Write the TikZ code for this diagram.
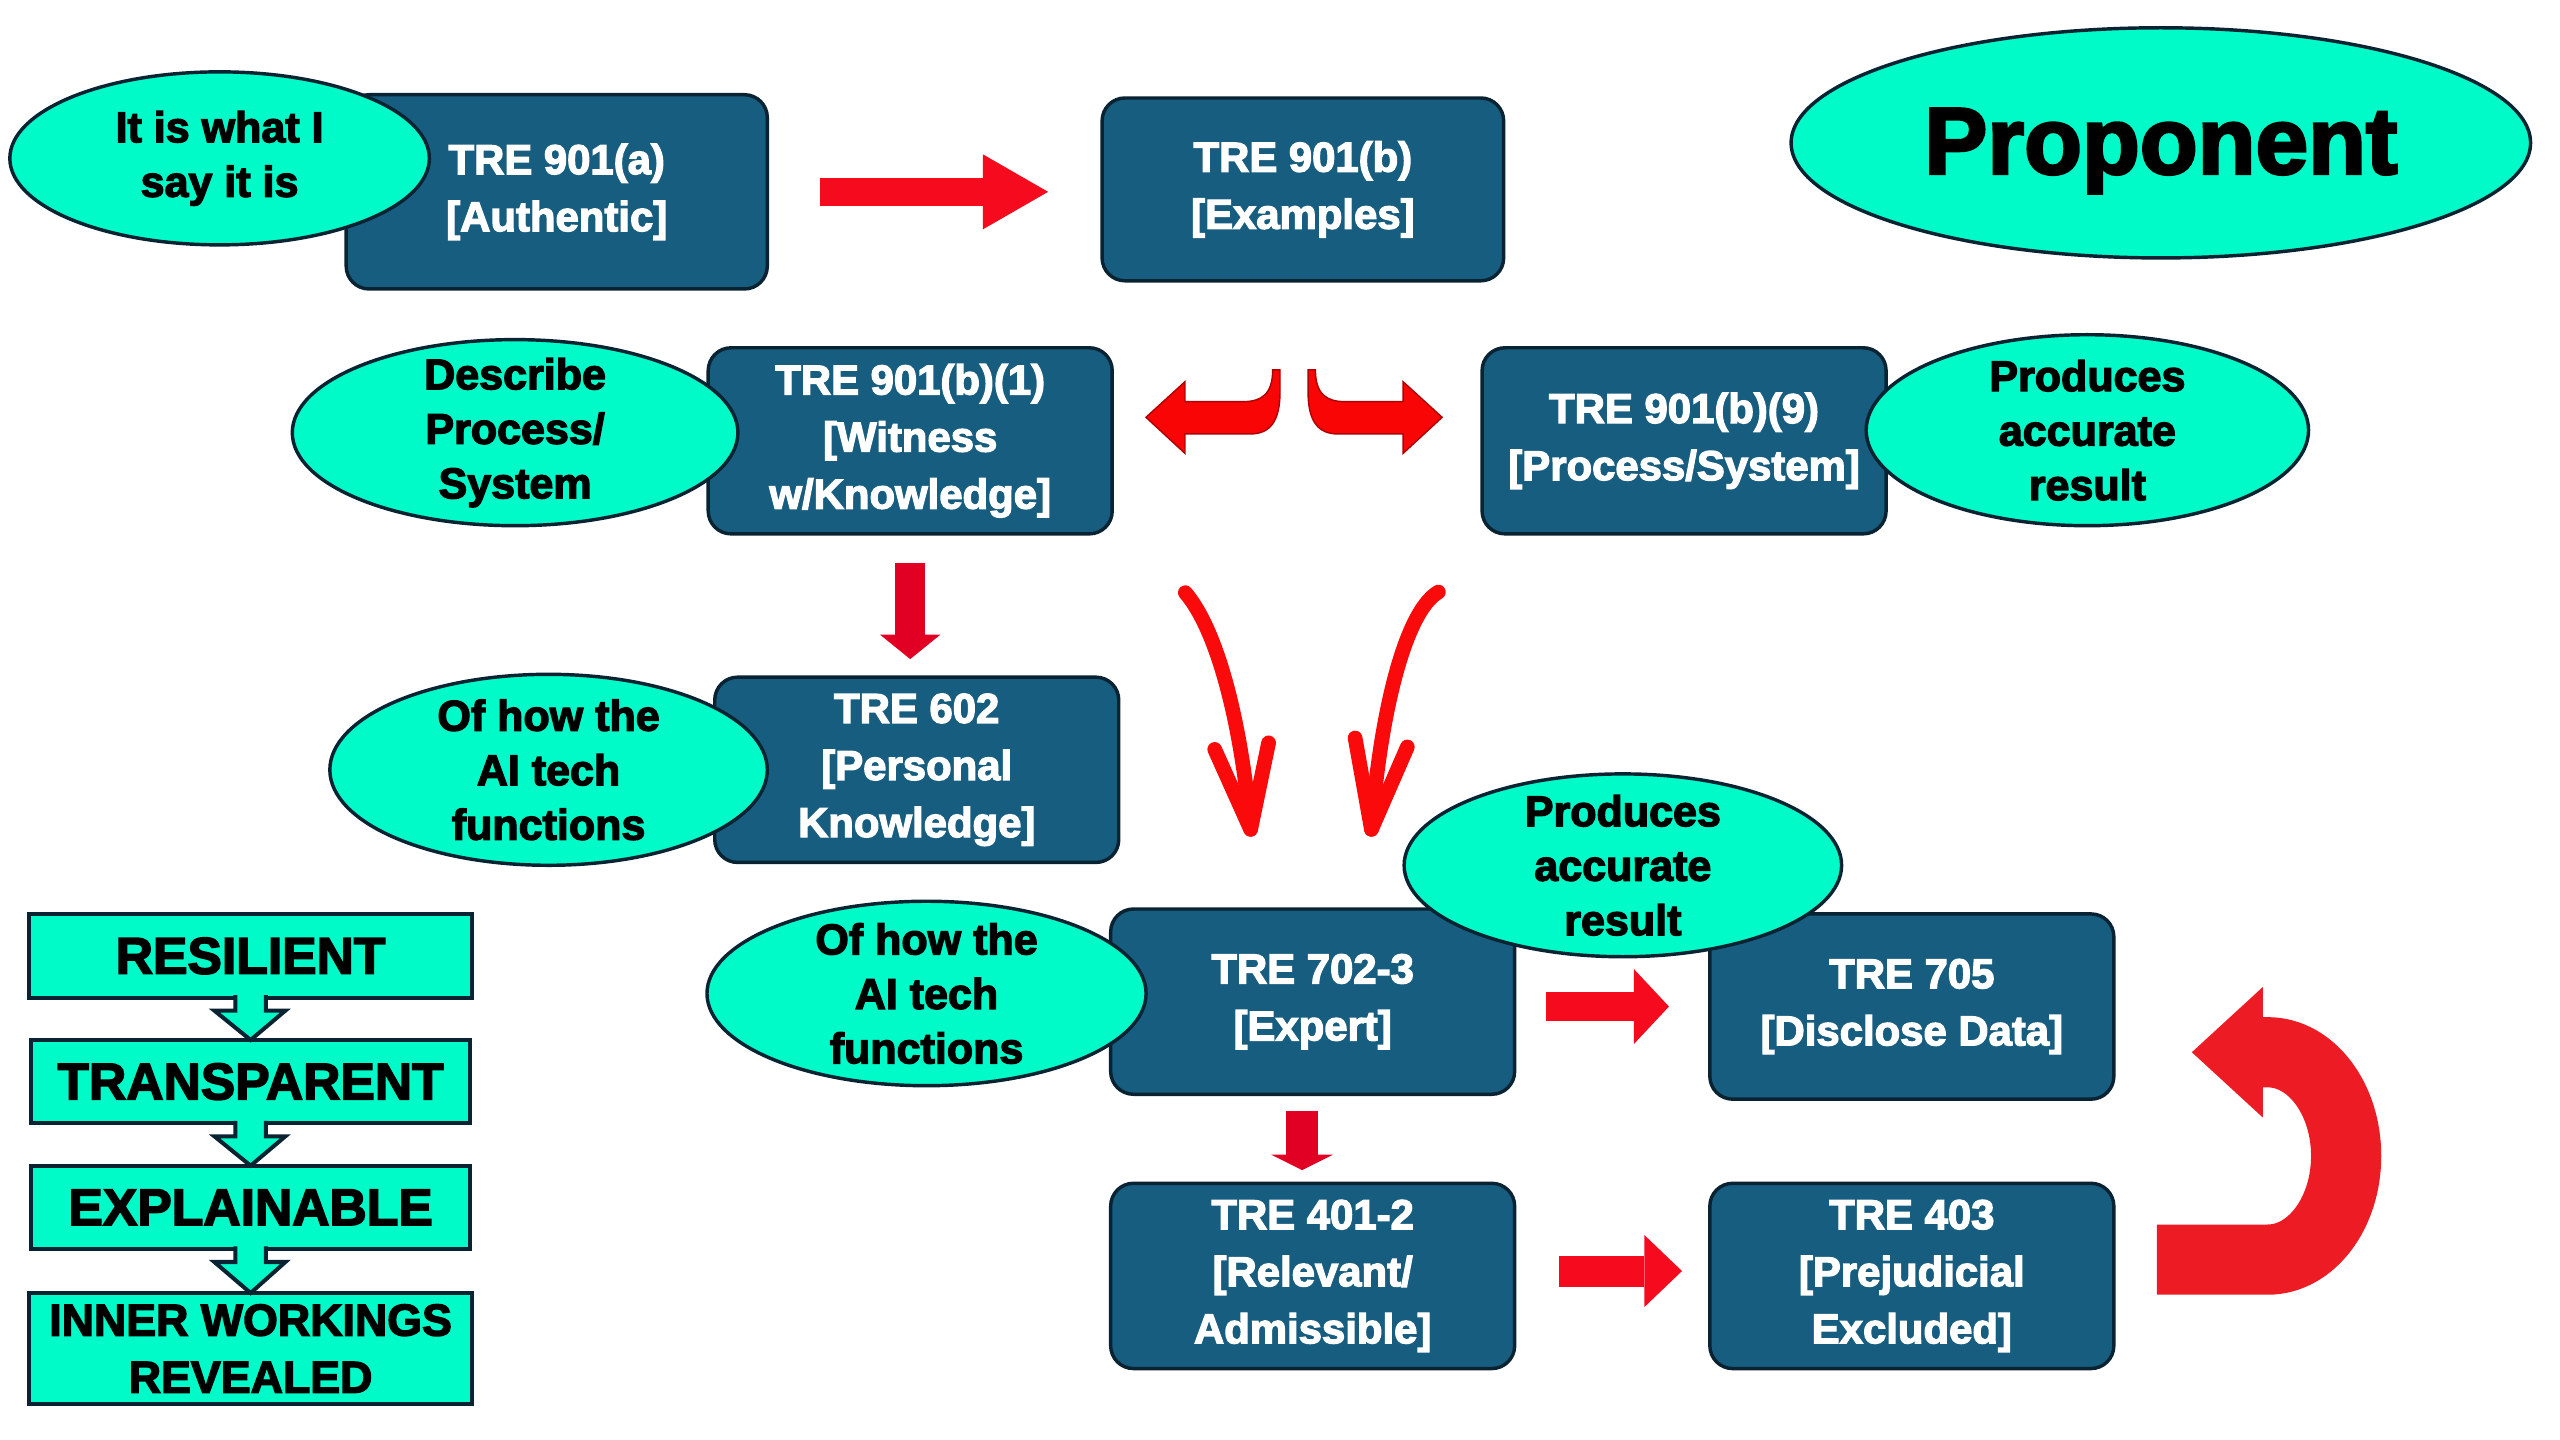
\documentclass[tikz,border=0pt]{standalone}
\usepackage{fontspec}
\setmainfont{Liberation Sans}[BoldFeatures={FakeBold=3}]
\usepackage{xcolor}
\usetikzlibrary{shapes.geometric, arrows.meta, calc, positioning}

\definecolor{boxblue}{RGB}{23,93,128}
\definecolor{boxline}{RGB}{10,35,50}
\definecolor{aqua}{RGB}{0,250,200}
\definecolor{blockred}{RGB}{245,10,30}
\definecolor{downred}{RGB}{225,0,35}
\definecolor{turnred}{RGB}{237,28,36}
\definecolor{penred}{RGB}{250,10,10}
\definecolor{splitred}{RGB}{250,5,5}

\newcommand\boxfont{\bfseries\fontsize{14.6}{19.9}\selectfont}
\newcommand\bubblefont{\bfseries\fontsize{15}{19}\selectfont}
\newcommand\tierfont{\bfseries\fontsize{18}{20}\selectfont}

% block arrow between two stacked tiers
\newcommand\tierarrow[2]{%
  \path[fill=aqua, draw=boxline, line width=1.4pt, line join=miter]
    ($(#1.south)+(9.4,-1.5)$) -- ($(#1.south)+(9.4,8)$) -- ($(#1.south)+(21.3,8)$)
    -- (#2.north) -- ($(#1.south)+(-22.2,8)$) -- ($(#1.south)+(-9.4,8)$)
    -- ($(#1.south)+(-9.4,-1.5)$);}

\begin{document}
\begin{tikzpicture}[x=0.02cm, y=-0.02cm,
    tre/.style={rectangle, rounded corners=0.28cm, draw=boxline, line width=1.2pt,
      fill=boxblue, text=white, font=\boxfont, align=center,
      minimum width=4.95cm, minimum height=2.27cm, inner sep=0pt},
    bubble/.style={ellipse, draw=boxline, line width=1.2pt, fill=aqua, inner sep=0pt},
    bubbletext/.style={font=\bubblefont, align=center, text=black},
    tier/.style={rectangle, draw=boxline, line width=1.4pt, fill=aqua, font=\tierfont,
      align=center, minimum width=5.42cm, minimum height=1.02cm, inner sep=0pt, outer sep=0pt},
    blockarrow/.style={draw=blockred, line width=0.35cm},
    turnarrow/.style={draw=turnred, line width=0.86cm,
      -{Triangle[width=1.6cm, length=0.87cm, line width=0pt]}},
    penarrow/.style={draw=penred, line width=0.18cm, line cap=round, line join=round}]
  \useasboundingbox (0,0) rectangle (1568,882);

  % rule boxes
  \node[tre, minimum width=5.16cm, minimum height=2.38cm] (auth) at (341,117.5) {TRE 901(a)\\{}[Authentic]};
  \node[tre, minimum width=4.92cm, minimum height=2.24cm] (examples) at (798,116) {TRE 901(b)\\{}[Examples]};
  \node[tre, minimum height=2.28cm] (witness) at (557.5,270) {TRE 901(b)(1)\\{}[Witness\\w/Knowledge]};
  \node[tre, minimum height=2.28cm] (process) at (1031.5,270) {TRE 901(b)(9)\\{}[Process/System]};
  \node[tre] (personal) at (561.5,471.5) {TRE 602\\{}[Personal\\Knowledge]};
  \node[tre] (expert) at (804,613.5) {TRE 702-3\\{}[Expert]};
  \node[tre] (disclose) at (1171,616.5) {TRE 705\\{}[Disclose Data]};
  \node[tre] (relevant) at (804,781.5) {TRE 401-2\\{}[Relevant/\\Admissible]};
  \node[tre] (prejudice) at (1171,781.5) {TRE 403\\{}[Prejudicial\\Excluded]};

  % bubbles
  \node[bubble, minimum width=5.14cm, minimum height=2.12cm,
    label={[bubbletext]center:It is what I\\say it is}] (saysso) at (134.5,97) {};
  \node[bubble, minimum width=9.06cm, minimum height=2.82cm,
    label={[bubbletext, font=\bfseries\fontsize{33}{36}\selectfont, yshift=-1mm]center:Proponent}] (proponent) at (1323.5,87.5) {};
  \node[bubble, minimum width=5.46cm, minimum height=2.28cm,
    label={[bubbletext]center:Describe\\Process/\\System}] (describe) at (315.5,265) {};
  \node[bubble, minimum width=5.42cm, minimum height=2.34cm,
    label={[bubbletext]center:Produces\\accurate\\result}] (accurate1) at (1278.5,263.5) {};
  \node[bubble, minimum width=5.36cm, minimum height=2.34cm,
    label={[bubbletext]center:Of how the\\AI tech\\functions}] (aitech1) at (336,471.5) {};
  \node[bubble, minimum width=5.38cm, minimum height=2.26cm,
    label={[bubbletext]center:Of how the\\AI tech\\functions}] (aitech2) at (567.5,608.5) {};
  \node[bubble, minimum width=5.36cm, minimum height=2.24cm,
    label={[bubbletext]center:Produces\\accurate\\result}] (accurate2) at (994,530) {};

  % tiers
  \node[tier] (resilient) at (153.5,585.5) {RESILIENT};
  \node[tier, below=0.52cm of resilient, minimum width=5.38cm] (transparent) {TRANSPARENT};
  \node[tier, below=0.52cm of transparent, minimum width=5.38cm] (explainable) {EXPLAINABLE};
  \node[tier, below=0.54cm of explainable, minimum height=1.36cm,
    font=\bfseries\fontsize{15.6}{19.9}\selectfont] (inner) {INNER WORKINGS\\REVEALED};
  \tierarrow{resilient}{transparent}
  \tierarrow{transparent}{explainable}
  \tierarrow{explainable}{inner}

  % straight arrows
  \draw[blockarrow, -{Triangle[width=0.92cm, length=0.8cm, line width=0pt]},
    shorten <=0.62cm, shorten >=0.64cm] (auth.east) -- (auth.east -| examples.west);
  \draw[blockarrow, draw=downred, line width=0.37cm,
    -{Triangle[width=0.74cm, length=0.3cm, line width=0pt]},
    shorten <=0.34cm, shorten >=0.2cm] (witness.south) -- (witness.south |- personal.north);
  \draw[blockarrow, -{Triangle[width=0.92cm, length=0.43cm, line width=0pt]},
    shorten <=0.36cm, shorten >=0.48cm] (expert.east |- disclose.west) -- (disclose.west);
  \coordinate (expdrop) at ($(expert.south)+(-6.5,0)$);
  \draw[blockarrow, draw=downred, line width=0.39cm,
    -{Triangle[width=0.76cm, length=0.19cm, line width=0pt]},
    shorten <=0.18cm, shorten >=0.14cm] (expdrop) -- (expdrop |- relevant.north);
  \coordinate (relout) at ($(relevant.east)+(0,-3)$);
  \draw[blockarrow, line width=0.38cm, -{Triangle[width=0.88cm, length=0.46cm, line width=0pt]},
    shorten <=0.52cm, shorten >=0.32cm] (relout) -- (relout -| prejudice.west);

  % u-turn back up
  \draw[turnarrow] (1321,771.5) -- (1389,771.5)
    .. controls (1415.5,771.5) and (1437,743.1) .. (1437,708)
    .. controls (1437,672.9) and (1415.5,644.5) .. (1389,644.5) -- (1342.5,644.5);

  % split arrows under 901(b)
  \filldraw[fill=splitred, draw=splitred!70!black, line width=0.5pt]
    (784,226.6) -- (784,240) .. controls (784,258) and (778,265.8) .. (765.6,265.8)
    -- (725.8,265.8) -- (725.8,277.7) -- (701.9,255.6) -- (725.8,233.8) -- (725.8,246)
    -- (761.5,246) .. controls (772,246) and (779.5,242) .. (779.5,226.6) -- cycle;
  \begin{scope}[xshift=31.71cm, xscale=-1]
    \filldraw[fill=splitred, draw=splitred!70!black, line width=0.5pt]
      (784,226.6) -- (784,240) .. controls (784,258) and (778,265.8) .. (765.6,265.8)
      -- (725.8,265.8) -- (725.8,277.7) -- (701.9,255.6) -- (725.8,233.8) -- (725.8,246)
      -- (761.5,246) .. controls (772,246) and (779.5,242) .. (779.5,226.6) -- cycle;
  \end{scope}

  % pen arrows
  \draw[penarrow] (726,363) .. controls (745,385) and (760,440) .. (766,508);
  \draw[penarrow] (744,459) -- (766,508) -- (777,455);
  \draw[penarrow] (881,362.6) .. controls (860,375) and (845,440) .. (840,508);
  \draw[penarrow] (830,452) -- (840,508) -- (862,457.5);
\end{tikzpicture}
\end{document}
